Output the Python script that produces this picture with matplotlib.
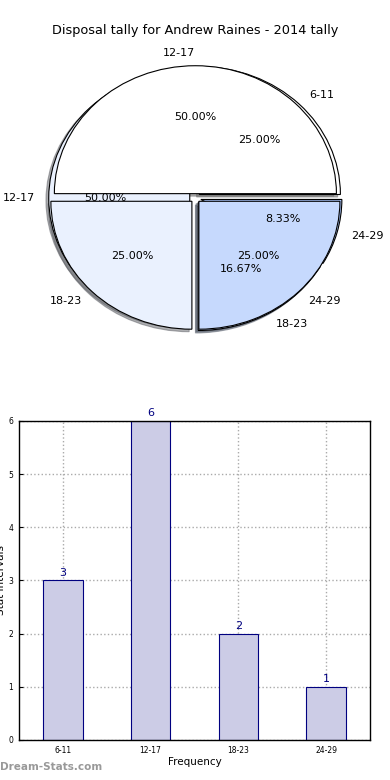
import matplotlib
matplotlib.use("Agg")
import matplotlib.pyplot as plt

# Data
categories = ["6-11", "12-17", "18-23", "24-29"]
counts = [3, 6, 2, 1]
# second (overlaid) pie as it appears in the reference
overlay_labels = ["12-17", "18-23", "24-29"]
overlay_values = [50, 25, 25]

title = "Disposal tally for Andrew Raines - 2014 tally"

pie_colors = ["#ffffff", "#eaf1fe", "#c6d9fd", "#a9c5fb"]
bar_color = "#ccccE6"
edge_navy = "#000080"

fig = plt.figure(figsize=(3.9, 7.8), dpi=100)

shadow_style = dict(ox=-0.014, oy=-0.014, shade=0.6)

# ---- Pie ----
axp = fig.add_axes([0.049, 0.541, 0.904, 0.410])
w1, t1, a1 = axp.pie(counts, labels=categories, colors=pie_colors[:4],
                     autopct="%1.2f%%", shadow=shadow_style, explode=[0.04] * 4,
                     wedgeprops=dict(edgecolor="black", linewidth=0.8),
                     textprops=dict(fontsize=8))
w2, t2, a2 = axp.pie(overlay_values, labels=overlay_labels, colors=pie_colors[:3],
                     autopct="%1.2f%%", shadow=shadow_style, explode=[0.035] * 3,
                     wedgeprops=dict(edgecolor="black", linewidth=0.8),
                     textprops=dict(fontsize=8))
axp.set_aspect("auto")
axp.set_xlim(-1.25, 1.25)
axp.set_ylim(-1.25, 1.25)
fig.text(0.5, 0.961, title, ha="center", va="center", fontsize=9.3)

# ---- Bar ----
axb = fig.add_axes([0.0487, 0.0513, 0.9, 0.409])
x = list(range(len(categories)))
bars = axb.bar(x, counts, width=0.45, color=bar_color, edgecolor=edge_navy,
               linewidth=0.8, zorder=2)
for xi, c in zip(x, counts):
    axb.text(xi, c + 0.05, str(c), ha="center", va="bottom", fontsize=8,
             color=edge_navy)
axb.set_xlim(-0.5, 3.5)
axb.set_ylim(0, 6)
axb.set_xticks(x)
axb.set_xticklabels(categories)
axb.set_yticks(range(0, 7))
axb.tick_params(labelsize=5.5, direction="in", length=3, pad=4)
axb.grid(True, linestyle=":", color="#aaaaaa", linewidth=1, zorder=0)
axb.set_axisbelow(True)
for s in axb.spines.values():
    s.set_linewidth(1)
axb.set_xlabel("Frequency", fontsize=7.5, labelpad=2)
axb.set_ylabel("Stat Intervals", fontsize=7.5, labelpad=2)

fig.text(0.0, 0.01, "Dream-Stats.com", fontsize=7.5, color="#999999",
         fontweight="bold", ha="left", va="bottom")

fig.savefig("out.png", dpi=100)
